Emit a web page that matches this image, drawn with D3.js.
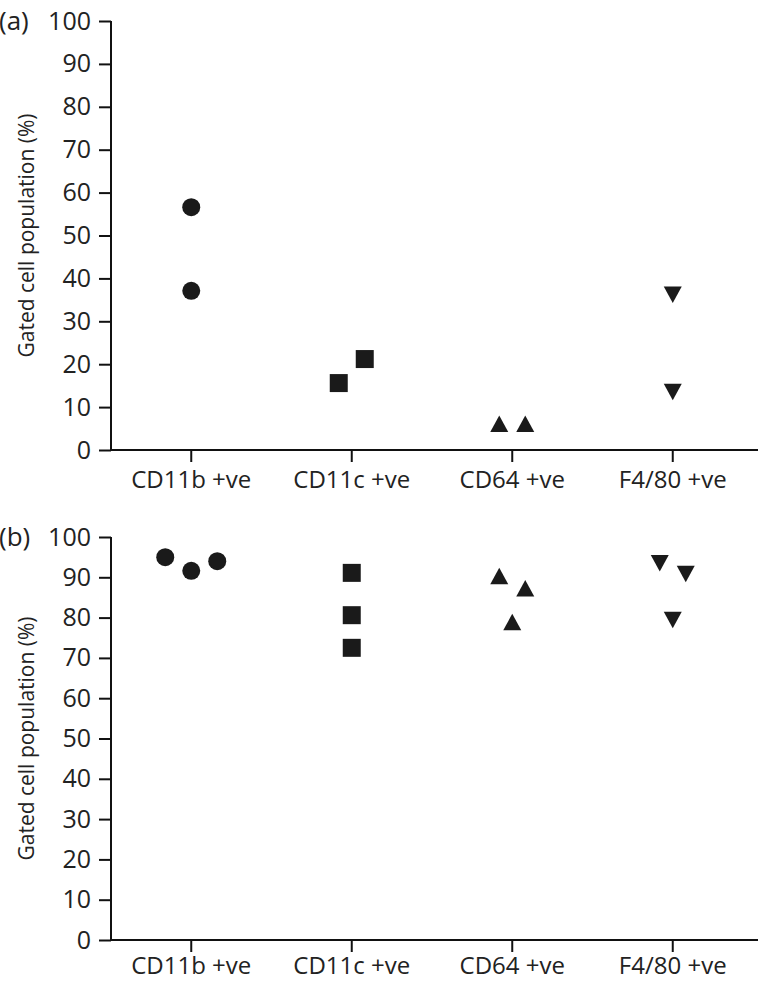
<!DOCTYPE html>
<html><head><meta charset="utf-8">
<script src="https://cdn.jsdelivr.net/npm/d3@7"></script>
<style>
html,body{margin:0;padding:0;background:#fff;}
svg{display:block;}
text{font-family:"Open Sans",sans-serif;fill:#222;}
</style></head>
<body>
<script>
// ---------- data ----------
const categories = ["CD11b +ve", "CD11c +ve", "CD64 +ve", "F4/80 +ve"];
const yTicks = [0, 10, 20, 30, 40, 50, 60, 70, 80, 90, 100];
const yTitle = "Gated cell population (%)";

// panel (a): values per category, with horizontal jitter index per point
const aCD11b = [56.6, 37.1];   const aCD11bJit = [0, 0];
const aCD11c = [15.6, 21.2];   const aCD11cJit = [-1, 1];
const aCD64  = [6.1, 6.1];     const aCD64Jit  = [-1, 1];
const aF480  = [36.2, 13.5];   const aF480Jit  = [0, 0];

// panel (b)
const bCD11b = [95.0, 91.6, 94.0]; const bCD11bJit = [-2, 0, 2];
const bCD11c = [91.1, 80.6, 72.5]; const bCD11cJit = [0, 0, 0];
const bCD64  = [90.3, 87.3, 78.9]; const bCD64Jit  = [-1, 1, 0];
const bF480  = [93.5, 90.8, 79.4]; const bF480Jit  = [-1, 1, 0];

// ---------- layout ----------
const W = 758, H = 983;
const svg = d3.select("body").append("svg").attr("width", W).attr("height", H);

const x = d3.scaleBand().domain(categories).range([111, 753]);
const jitterStep = 13;

const markerKeys = ["circle", "square", "triangle", "triangleDown"];
const S = 18; // marker size
function markerPath(kind) {
  const h = S / 2;
  if (kind === "circle") return d3.symbol(d3.symbolCircle, Math.PI * h * h)();
  if (kind === "square") return `M${-h},${-h}H${h}V${h}H${-h}Z`;
  const th = 16.5 / 2;
  if (kind === "triangle") return `M0,${-th}L${h},${th}L${-h},${th}Z`;
  return `M0,${th}L${h},${-th}L${-h},${-th}Z`;
}

function panel(cfg) {
  const y = d3.scaleLinear().domain([0, 100]).range([cfg.y0, cfg.y1]);
  const g = svg.append("g");

  // y axis
  const yAx = g.append("g").attr("transform", `translate(111,0)`)
    .call(d3.axisLeft(y).tickValues(yTicks).tickSize(12).tickPadding(8).tickFormat(d3.format("d")));
  yAx.select(".domain").attr("stroke", "#111").attr("stroke-width", 2).attr("d", `M0,${cfg.y1}V${cfg.y0}`);
  yAx.selectAll(".tick line").attr("stroke", "#111").attr("stroke-width", 2);
  yAx.selectAll(".tick text").attr("font-size", 25).attr("fill", "#222")
     .attr("font-family", "Open Sans, sans-serif");

  // x axis
  const xAx = g.append("g").attr("transform", `translate(0,${cfg.y0})`)
    .call(d3.axisBottom(x).tickSize(12).tickPadding(cfg.xPad));
  xAx.select(".domain").attr("stroke", "#111").attr("stroke-width", 2).attr("d", `M111,0H${W}`);
  xAx.selectAll(".tick line").attr("stroke", "#111").attr("stroke-width", 2);
  xAx.selectAll(".tick text").attr("font-size", 24).attr("fill", "#222")
     .attr("font-family", "Open Sans, sans-serif");

  // y title
  g.append("text")
    .attr("transform", `translate(34,${(cfg.y0 + cfg.y1) / 2}) rotate(-90)`)
    .attr("text-anchor", "middle").attr("font-size", 21).text(yTitle);

  // panel letter
  g.append("text").attr("x", -1).attr("y", cfg.y1).attr("dy", "0.35em")
    .attr("font-size", 26).text(cfg.label);

  // points
  cfg.series.forEach((s, i) => {
    const pts = s.vals.map((v, j) => ({ v, jit: s.jit[j] }));
    g.selectAll(null).data(pts).enter().append("path")
      .attr("d", markerPath(markerKeys[i]))
      .attr("transform", d => `translate(${x(categories[i]) + x.bandwidth() / 2 + d.jit * jitterStep},${y(d.v)})`)
      .attr("fill", "#1a1a1a");
  });
}

panel({ label: "(a)", y0: 450, y1: 21, xPad: 9, series: [
  { vals: aCD11b, jit: aCD11bJit }, { vals: aCD11c, jit: aCD11cJit },
  { vals: aCD64, jit: aCD64Jit }, { vals: aF480, jit: aF480Jit } ] });
panel({ label: "(b)", y0: 940, y1: 537, xPad: 5, series: [
  { vals: bCD11b, jit: bCD11bJit }, { vals: bCD11c, jit: bCD11cJit },
  { vals: bCD64, jit: bCD64Jit }, { vals: bF480, jit: bF480Jit } ] });
</script>
</body></html>
